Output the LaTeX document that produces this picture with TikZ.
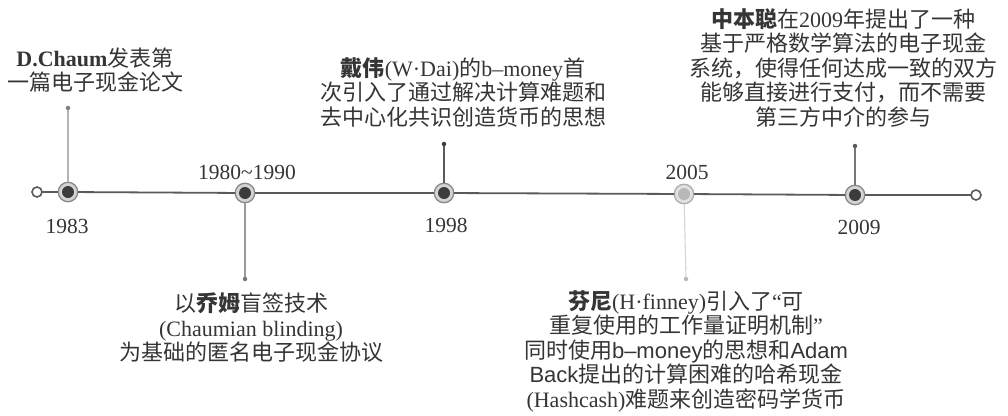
\documentclass[tikz,border=0pt]{standalone}
\usepackage{fontspec}
\setmainfont{Liberation Serif}
\newfontfamily\zhfont{Noto Sans CJK SC}
\newfontfamily\lsans{Liberation Sans}
\newcommand\zh[1]{{\zhfont #1}}
\newcommand\zhb[1]{{\zhfont\bfseries #1}}
\definecolor{txt}{HTML}{353535}
\definecolor{axisc}{HTML}{5A5A5A}
\definecolor{ringfill}{HTML}{D4D4D4}
\definecolor{ringdraw}{HTML}{8A8A8A}
\definecolor{innerc}{HTML}{3C3C3C}
\definecolor{innerlight}{HTML}{B8B8B8}
\definecolor{stemA}{HTML}{B4B4B4}
\definecolor{stemB}{HTML}{9A9A9A}
\definecolor{stemC}{HTML}{5A5A5A}
\definecolor{stemD}{HTML}{D4D4D4}
\definecolor{stemE}{HTML}{777777}
\begin{document}
\begin{tikzpicture}[x=1pt,y=-1pt,
  every node/.style={inner sep=0pt, outer sep=0pt},
  txtnode/.style={text=txt, align=center, font=\fontsize{22}{24.5}\selectfont},
  yearlbl/.style={text=txt, font=\fontsize{21.5}{24}\selectfont},
  axis/.style={draw=axisc, line width=1.8pt},
  marker/.style={circle, minimum size=19.5pt, fill=ringfill, draw=ringdraw, line width=1.3pt},
  endcap/.style={circle, minimum size=10pt, fill=white, draw=axisc, line width=1.6pt},
  stemdot/.style={circle, minimum size=4.5pt, fill=#1},
  stem/.style={draw=#1, line width=1.1pt},
]
\useasboundingbox (0,0) rectangle (1008,415);

% timeline
\node[endcap] (e1) at (37,192) {};
\node[marker] (m1) at (68,192) {};
\node[marker] (m2) at (245,193) {};
\node[marker] (m3) at (444,193) {};
\node[marker, fill=ringfill!70, draw=ringdraw!70] (m4) at (684,194) {};
\node[marker] (m5) at (855,195) {};
\node[endcap] (e2) at (976,195) {};
\draw[axis] (e1) -- (m1);
\draw[axis] (m1) -- (m2);
\draw[axis] (m2) -- (m3);
\draw[axis] (m3) -- (m4);
\draw[axis] (m4) -- (m5);
\draw[axis] (m5) -- (e2);
\fill[innerc] (m1.center) circle (6pt);
\fill[innerc] (m2.center) circle (6pt);
\fill[innerc] (m3.center) circle (6pt);
\fill[innerlight] (m4.center) circle (6pt);
\fill[innerc] (m5.center) circle (6pt);

% stems
\node[stemdot=gray] (d1) at (68,108) {};
\node[stemdot=stemE] (d2) at (245,279) {};
\node[stemdot=innerc] (d3) at (444,144) {};
\node[stemdot=innerlight] (d4) at (686,279) {};
\node[stemdot=stemC] (d5) at (855,146) {};
\draw[stem=stemA] (m1) -- (d1);
\draw[stem=stemB] (m2) -- (d2);
\draw[stem=stemC] (m3) -- (d3);
\draw[stem=stemD] (m4) -- (d4);
\draw[stem=stemE] (m5) -- (d5);

% years
\node[yearlbl] (y1) at (67,226) {1983};
\node[yearlbl] (y2) at (247,172) {1980\textasciitilde1990};
\node[yearlbl] (y3) at (446,225) {1998};
\node[yearlbl] (y4) at (687,172) {2005};
\node[yearlbl] (y5) at (859,227) {2009};

% texts
\node[txtnode] (t1) at (95,70) {\textbf{D.Chaum}\zh{发表第}\\ \zh{一篇电子现金论文}};
\node[txtnode] (t2) at (463,92) {\zhb{戴伟}(W·Dai)\zh{的}b–money\zh{首}\\ \zh{次引入了通过解决计算难题和}\\ \zh{去中心化共识创造货币的思想}};
\node[txtnode] (t3) at (843,67.5) {\zhb{中本聪}\zh{在}2009\zh{年提出了一种}\\ \zh{基于严格数学算法的电子现金}\\ \zh{系统，使得任何达成一致的双方}\\ \zh{能够直接进行支付，而不需要}\\ \zh{第三方中介的参与}};
\node[txtnode] (t4) at (251,328) {\zh{以}\zhb{乔姆}\zh{盲签技术}\\ (Chaumian blinding)\\ \zh{为基础的匿名电子现金协议}};
\node[txtnode] (t5) at (686,351) {\zhb{芬尼}(H·finney)\zh{引入了}“\zh{可}\\ \zh{重复使用的工作量证明机制}”\\ \zh{同时使用}{\lsans b–money}\zh{的思想和}{\lsans Adam}\\ {\lsans Back}\zh{提出的计算困难的哈希现金}\\ (Hashcash)\zh{难题来创造密码学货币}};
\end{tikzpicture}
\end{document}
